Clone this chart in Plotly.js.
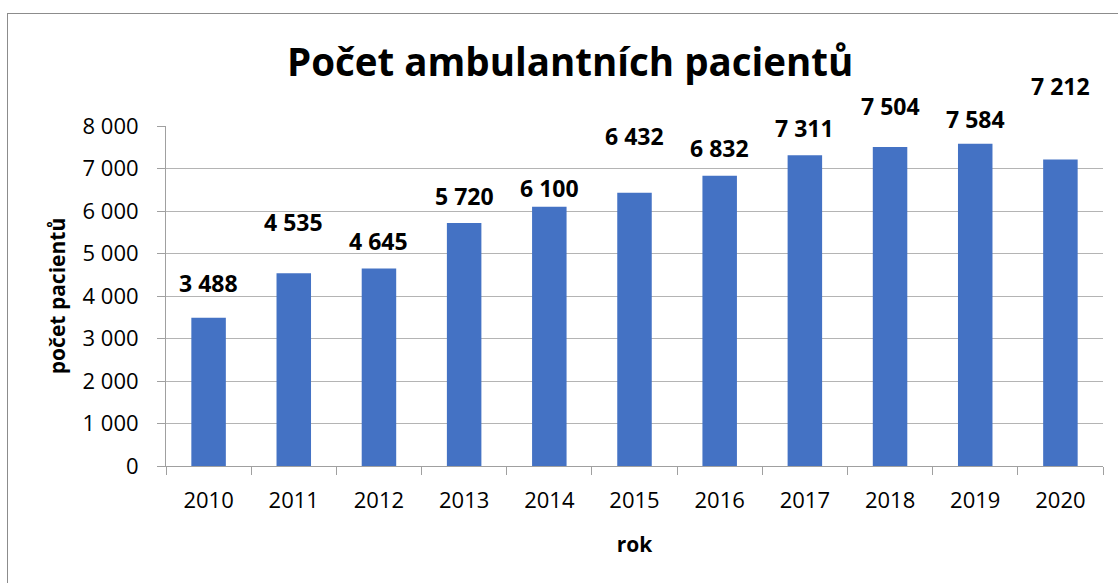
<!DOCTYPE html>
<html>
<head>
<meta charset="utf-8">
<script src="https://cdn.plot.ly/plotly-3.0.1.min.js"></script>
<style>
  html, body { margin: 0; padding: 0; background: #fff; }
  #wrap { position: relative; width: 1118px; height: 583px; overflow: hidden; }
  #chart { width: 1118px; height: 583px; }
  #frame { position: absolute; left: 7px; top: 13px; width: 1200px; height: 700px;
           border-left: 1px solid #8c8c8c; border-top: 1px solid #8c8c8c; pointer-events: none; }
</style>
</head>
<body>
<div id="wrap">
  <div id="chart"></div>
  <div id="frame"></div>
</div>
<script>
// Data
const years = ["2010","2011","2012","2013","2014","2015","2016","2017","2018","2019","2020"];
const patients = [3488, 4535, 4645, 5720, 6100, 6432, 6832, 7311, 7504, 7584, 7212];
const yTickVals = [0, 1000, 2000, 3000, 4000, 5000, 6000, 7000, 8000];

// Label vertical offsets (px above bar top) – styling only
const labelShiftPx = [35, 51, 28, 27, 19, 57, 28, 27, 41, 25, 73];

const fmt = v => String(v).replace(/\B(?=(\d{3})+(?!\d))/g, "\u00a0");
const FONT = "Open Sans, sans-serif";

const trace = {
  type: "bar",
  x: years,
  y: patients,
  marker: { color: "#4472C4" },
  hoverinfo: "x+y"
};

const annotations = years.map((yr, i) => ({
  x: i, y: patients[i], xref: "x", yref: "y",
  text: "<b>" + fmt(patients[i]) + "</b>",
  showarrow: false, yanchor: "middle", xanchor: "center",
  yshift: labelShiftPx[i],
  font: { family: FONT, size: 23, color: "#000" }
}));

const layout = {
  width: 1118, height: 583,
  margin: { l: 166, r: 15, t: 126, b: 117 },
  paper_bgcolor: "#fff", plot_bgcolor: "#fff",
  bargap: 0.595,
  showlegend: false,
  title: {
    text: "<b>Počet ambulantních pacientů</b>",
    font: { family: FONT, size: 38.5, color: "#000" },
    xref: "container", x: 0.51, xanchor: "center",
    yref: "container", y: 0.893, yanchor: "middle"
  },
  xaxis: {
    type: "category",
    categoryorder: "array", categoryarray: years,
    range: [-0.5, years.length - 0.5],
    autorange: false,
    tickangle: 0,
    tickfont: { family: FONT, size: 22, color: "#000" },
    ticks: "outside", tickson: "boundaries", ticklen: 8, tickcolor: "#a0a0a0",
    showline: true, linecolor: "#a0a0a0", linewidth: 1,
    showgrid: false,
    ticklabelstandoff: 15,
    title: { text: "<b>rok</b>", font: { family: FONT, size: 21, color: "#000" }, standoff: 23 }
  },
  yaxis: {
    range: [0, 8000],
    autorange: false,
    tickvals: yTickVals,
    ticktext: yTickVals.map(fmt),
    tickfont: { family: FONT, size: 22, color: "#000" },
    ticks: "outside", ticklen: 8, tickcolor: "#a0a0a0",
    showline: true, linecolor: "#a0a0a0", linewidth: 1,
    showgrid: true, gridcolor: "#b4b4b4", gridwidth: 1,
    zeroline: false,
    ticklabelstandoff: 14,
    title: { text: "<b>počet pacientů</b>", font: { family: FONT, size: 21, color: "#000" }, standoff: 11 }
  },
  annotations: annotations
};

Plotly.newPlot("chart", [trace], layout, { displayModeBar: false, staticPlot: true });
</script>
</body>
</html>
